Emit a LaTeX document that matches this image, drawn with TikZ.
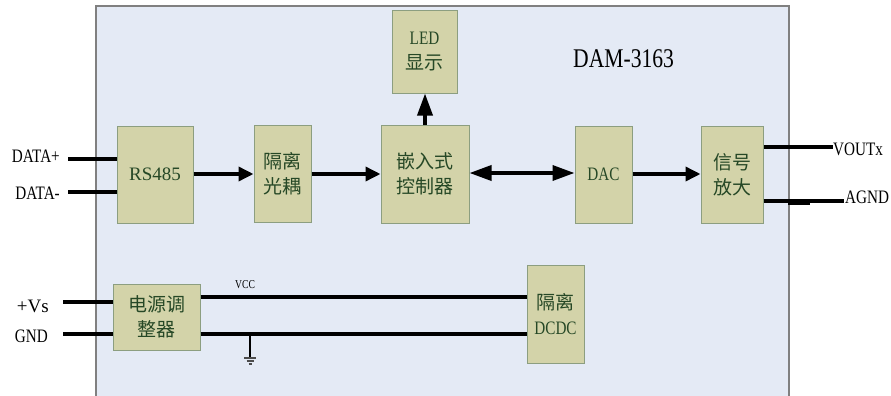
\documentclass[tikz,border=0pt]{standalone}
\usepackage{fontspec}
\setmainfont{Liberation Serif}
\newfontfamily\narrow[FakeStretch=0.8]{Liberation Serif}
\newfontfamily\cjk{Noto Sans CJK SC}
\usetikzlibrary{arrows.meta,positioning}
\definecolor{panelfill}{RGB}{228,234,245}
\definecolor{panelline}{RGB}{128,128,128}
\definecolor{boxfill}{RGB}{211,211,169}
\definecolor{boxline}{RGB}{140,158,128}
\definecolor{boxtext}{RGB}{38,72,38}

\begin{document}
\begin{tikzpicture}[x=1pt, y=-1pt, >={Triangle[length=15pt,width=14pt]},
        blk/.style={draw=boxline, line width=1pt, fill=boxfill, rectangle, inner sep=0pt, align=center, text=boxtext, font=\fontsize{19}{25}\selectfont\narrow},
        wire/.style={line width=3.5pt},
        lbl/.style={inner sep=0pt, font=\fontsize{19}{23}\selectfont\narrow},
        longtip/.style={line width=3.5pt, -{Triangle[length=22pt,width=15pt]}},
        dbltip/.style={line width=3.5pt, {Triangle[length=22pt,width=15pt]}-{Triangle[length=22pt,width=15pt]}}]
        \useasboundingbox (0,0) rectangle (891,396);
        % Module panel
        \fill[panelfill] (96,6) rectangle (789,396);
        \draw[panelline, line width=1.2pt] (96,396) -- (96,6) -- (789,6) -- (789,396);
        \node (title) at (573,67) [anchor=base west, inner sep=0pt, font=\fontsize{27}{30}\selectfont\narrow] {DAM-3163};

        % Nodes
        \node (rs) at (155,174.5) [blk, minimum width=76pt, minimum height=97pt, font=\fontsize{19}{25}\selectfont] {RS485};
        \node (iso) at (282.5,173.5) [blk, minimum width=57pt, minimum height=97pt] {{\cjk 隔离}\\{\cjk 光耦}};
        \node (mcu) at (425,174) [blk, minimum width=88pt, minimum height=98pt] {{\cjk 嵌入式}\\{\cjk 控制器}};
        \node (led) at (424.5,52) [blk, minimum width=65pt, minimum height=82pt] {LED\\{\cjk 显示}};
        \node (dac) at (603.5,174.5) [blk, minimum width=57pt, minimum height=97pt] {DAC};
        \node (amp) at (732,174.5) [blk, minimum width=62pt, minimum height=97pt] {{\cjk 信号}\\{\cjk 放大}};
        \node (pwr) at (156.5,317) [blk, minimum width=87pt, minimum height=66pt] {{\cjk 电源调}\\{\cjk 整器}};
        \node (dcdc) at (555.5,314) [blk, minimum width=57pt, minimum height=98pt] {{\cjk 隔离}\\DCDC};

        % Outside labels
        \node (dplab) at (60,162) [lbl, anchor=base east] {DATA+};
        \node (dmlab) at (60,199) [lbl, anchor=base east] {DATA-};
        \node (vslab) at (49,312) [lbl, anchor=base east, font=\fontsize{19}{23}\selectfont] {+Vs};
        \node (gndlab) at (48,342) [lbl, anchor=base east] {GND};
        \node (voutlab) at (833,155) [lbl, anchor=base west] {VOUTx};
        \node (agndlab) at (845,203) [lbl, anchor=base west] {AGND};
        \node (vcclab) at (235,288) [lbl, anchor=base west, font=\fontsize{12}{14}\selectfont\narrow] {VCC};

        % Wire ends
        \coordinate (dpin) at (68,159);
        \coordinate (dmin) at (68,192);
        \coordinate (vsin) at (63,302);
        \coordinate (gndin) at (63,334);
        \coordinate (vout) at (833,147);
        \coordinate (agnd) at (844,201);
        \coordinate (gtap) at (250,334);

        % Wires
        \draw[wire] (dpin) -- (dpin -| rs.west);
        \draw[wire] (dmin) -- (dmin -| rs.west);
        \draw[wire] (vsin) -- (vsin -| pwr.west);
        \draw[wire] (gndin) -- (gndin -| pwr.west);
        \draw[wire] (pwr.east |- 0,297) -- (dcdc.west |- 0,297);
        \draw[wire] (pwr.east |- gndin) -- (dcdc.west |- gndin);
        \draw[wire] (amp.east |- vout) -- (vout);
        \draw[wire] (amp.east |- agnd) -- (agnd);
        \fill (788,199.5) rectangle (810,204.5);

        % Arrows
        \draw[->, line width=3.5pt] (rs.east |- 0,174) -- (iso.west |- 0,174);
        \draw[->, line width=3.5pt] (iso.east |- 0,174) -- (mcu.west |- 0,174);
        \draw[dbltip] (mcu.east |- 0,173) -- (dac.west |- 0,173);
        \draw[->, line width=3.5pt] (dac.east |- 0,174) -- (amp.west |- 0,174);
        \draw[longtip] (mcu.north) -- (mcu.north |- led.south);

        % Ground
        \draw[line width=1.2pt] (gtap) -- (250,358);
        \draw[black!70, line width=1.5pt] (244,358) -- (256,358);
        \draw[black!70, line width=1.5pt] (246.5,361) -- (253.5,361);
        \draw[black!70, line width=1.5pt] (248.5,364) -- (251.5,364);
\end{tikzpicture}
\end{document}
